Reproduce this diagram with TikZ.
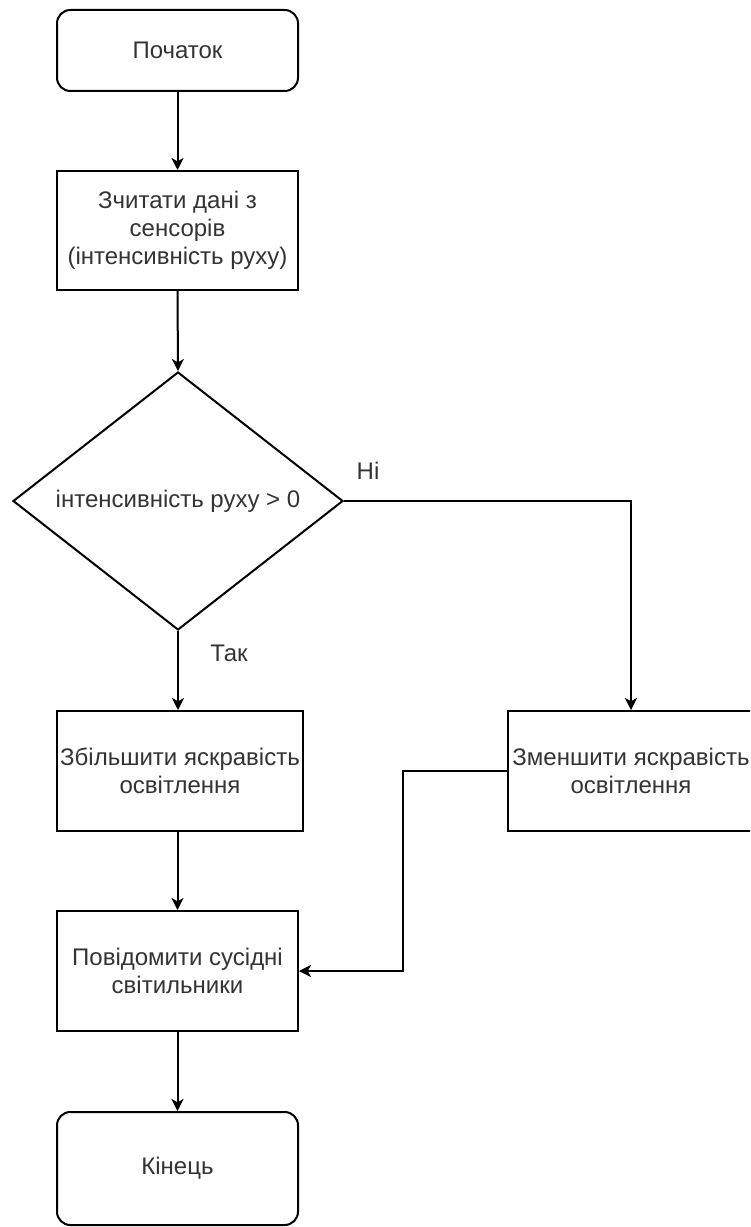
\documentclass[tikz,border=0pt]{standalone}
\usepackage{fontspec}
\setmainfont{Liberation Sans}
\usetikzlibrary{shapes.geometric,arrows.meta}
\definecolor{txt}{RGB}{51,51,51}

\begin{document}
\begin{tikzpicture}[x=0.75pt,y=-0.75pt,
  every node/.style={font=\fontsize{18pt}{21pt}\selectfont, text=txt},
  stepbox/.style={draw, line width=1.5pt, inner sep=0pt, align=center,
    minimum width=241*0.75pt, minimum height=120*0.75pt},
  termbox/.style={stepbox, rounded corners=10pt},
  decbox/.style={draw, diamond, line width=1.5pt, inner sep=0pt, shape aspect=1.28,
    minimum width=330*0.75pt, minimum height=258*0.75pt},
  lbl/.style={inner sep=0pt},
  flow/.style={draw, line width=1.5pt, -{Stealth[length=9pt,width=9pt,inset=2.5pt]}}
]
\useasboundingbox (0,0) rectangle (750,1227);
\clip (0,0) rectangle (750,1227);

% blocks
\node[termbox, minimum height=81*0.75pt] (start) at (177.5,50.5) {Початок};
\node[stepbox, minimum height=119*0.75pt] (read) at (177.5,230.5)
  {Зчитати дані з\\сенсорів\\(інтенсивність руху)};
\node[decbox] (dec) at (178,501) {інтенсивність руху > 0};
\node[stepbox, minimum width=246*0.75pt] (inc) at (180,771)
  {Збільшити яскравість\\освітлення};
\node[stepbox, minimum width=246*0.75pt] (dim) at (631,771)
  {Зменшити яскравість\\освітлення};
\node[stepbox] (notify) at (177.5,971) {Повідомити сусідні\\світильники};
\node[termbox, minimum height=113*0.75pt] (end) at (177.5,1168.5) {Кінець};

% branch labels
\node[lbl] (no) at (368,471) {Ні};
\node[lbl] (yes) at (229,653) {Так};

% connectors
\draw[flow] (start.south) -- (read.north);
\draw[flow] (read.south) -- (dec.north);
\draw[flow] (dec.south) -- (dec.south |- inc.north);
\draw[flow] (dec.east) -| (dim.north);
\draw[flow] (notify.north |- inc.south) -- (notify.north);
\coordinate (bend) at (403,771);
\draw[flow] (dim.west) -- (bend) |- (notify.east);
\draw[flow] (notify.south) -- (end.north);
\end{tikzpicture}
\end{document}
